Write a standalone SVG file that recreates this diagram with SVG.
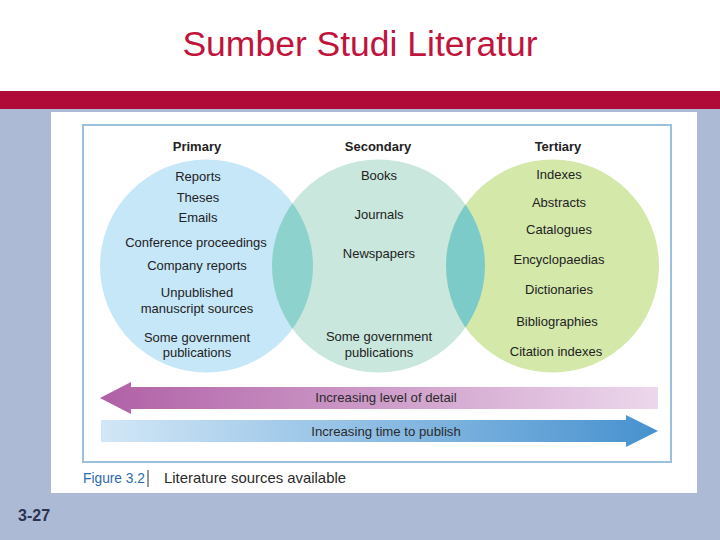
<svg xmlns="http://www.w3.org/2000/svg" width="720" height="540" viewBox="0 0 720 540">
<defs>
<style>
text{font-family:"Liberation Sans",Arial,sans-serif;fill:#222}
.h{font-size:13px;font-weight:bold;text-anchor:middle}
.i{font-size:13px;text-anchor:middle}
.a{font-size:13.2px;text-anchor:middle;fill:#2a2a2a}
.c{font-size:15px}
</style>
<linearGradient id="gL" x1="0" y1="0" x2="1" y2="0">
<stop offset="0" stop-color="#b060a6"/><stop offset="1" stop-color="#ecd8ec"/>
</linearGradient>
<linearGradient id="gR" x1="0" y1="0" x2="1" y2="0">
<stop offset="0" stop-color="#d2e7f7"/><stop offset="1" stop-color="#4791cf"/>
</linearGradient>
<clipPath id="cP"><circle cx="206.5" cy="266" r="106.5"/></clipPath>
<clipPath id="cT"><circle cx="552.5" cy="266" r="106.5"/></clipPath>
</defs>
<rect width="720" height="540" fill="#ffffff"/>
<text x="360" y="56" style="font-size:35.5px;fill:#c0143c;text-anchor:middle">Sumber Studi Literatur</text>
<rect x="0" y="91" width="720" height="18" fill="#b00b38"/>
<rect x="0" y="109" width="720" height="431" fill="#adbad6"/>
<rect x="51" y="112" width="646" height="381" fill="#ffffff"/>
<rect x="83" y="125" width="588" height="337" fill="none" stroke="#9ac0dc" stroke-width="2"/>
<g id="primary">
<circle cx="206.5" cy="266" r="106.5" fill="#c6e7f8"/>
</g>
<g id="secondary">
<circle cx="378.5" cy="266" r="106.5" fill="#c9e7dc"/>
</g>
<g id="tertiary">
<circle cx="552.5" cy="266" r="106.5" fill="#d4e8aa"/>
</g>
<g id="overlaps">
<circle cx="378.5" cy="266" r="106.5" fill="#8ed2cd" clip-path="url(#cP)"/>
<circle cx="378.5" cy="266" r="106.5" fill="#7dcbc9" clip-path="url(#cT)"/>
</g>
<g id="primary-text">
<text class="h" x="197" y="151">Primary</text>
<text class="i" x="198" y="181">Reports</text>
<text class="i" x="198" y="202">Theses</text>
<text class="i" x="198" y="222">Emails</text>
<text class="i" x="196" y="247">Conference proceedings</text>
<text class="i" x="197" y="270">Company reports</text>
<text class="i" x="197" y="297">Unpublished</text>
<text class="i" x="197" y="313">manuscript sources</text>
<text class="i" x="197" y="342">Some government</text>
<text class="i" x="197" y="357">publications</text>
</g>
<g id="secondary-text">
<text class="h" x="378" y="151">Secondary</text>
<text class="i" x="379" y="180">Books</text>
<text class="i" x="379" y="219">Journals</text>
<text class="i" x="379" y="258">Newspapers</text>
<text class="i" x="379" y="341">Some government</text>
<text class="i" x="379" y="357">publications</text>
</g>
<g id="tertiary-text">
<text class="h" x="558" y="151">Tertiary</text>
<text class="i" x="559" y="179">Indexes</text>
<text class="i" x="559" y="207">Abstracts</text>
<text class="i" x="559" y="234">Catalogues</text>
<text class="i" x="559" y="264">Encyclopaedias</text>
<text class="i" x="559" y="294">Dictionaries</text>
<text class="i" x="557" y="326">Bibliographies</text>
<text class="i" x="556" y="356">Citation indexes</text>
</g>
<g id="connectors">
<g id="detail-arrow">
<polygon points="100,398 131,382 131,387 658,387 658,409 131,409 131,414" fill="url(#gL)"/>
<text class="a" x="386" y="402">Increasing level of detail</text>
</g>
<g id="time-arrow">
<polygon points="101,420 626,420 626,415 658,431 626,447 626,442 101,442" fill="url(#gR)"/>
<text class="a" x="386" y="436">Increasing time to publish</text>
</g>
</g>
<g id="caption">
<text class="c" x="83" y="483" textLength="62" lengthAdjust="spacingAndGlyphs" style="fill:#2a6cb0">Figure 3.2</text>
<line x1="148" y1="470" x2="148" y2="487" stroke="#333" stroke-width="1"/>
<text class="c" x="164" y="483" textLength="182" lengthAdjust="spacingAndGlyphs" style="fill:#2a2a2a">Literature sources available</text>
</g>
<text x="18" y="521" style="font-size:16px;font-weight:bold;fill:#2b3350">3-27</text>
</svg>
